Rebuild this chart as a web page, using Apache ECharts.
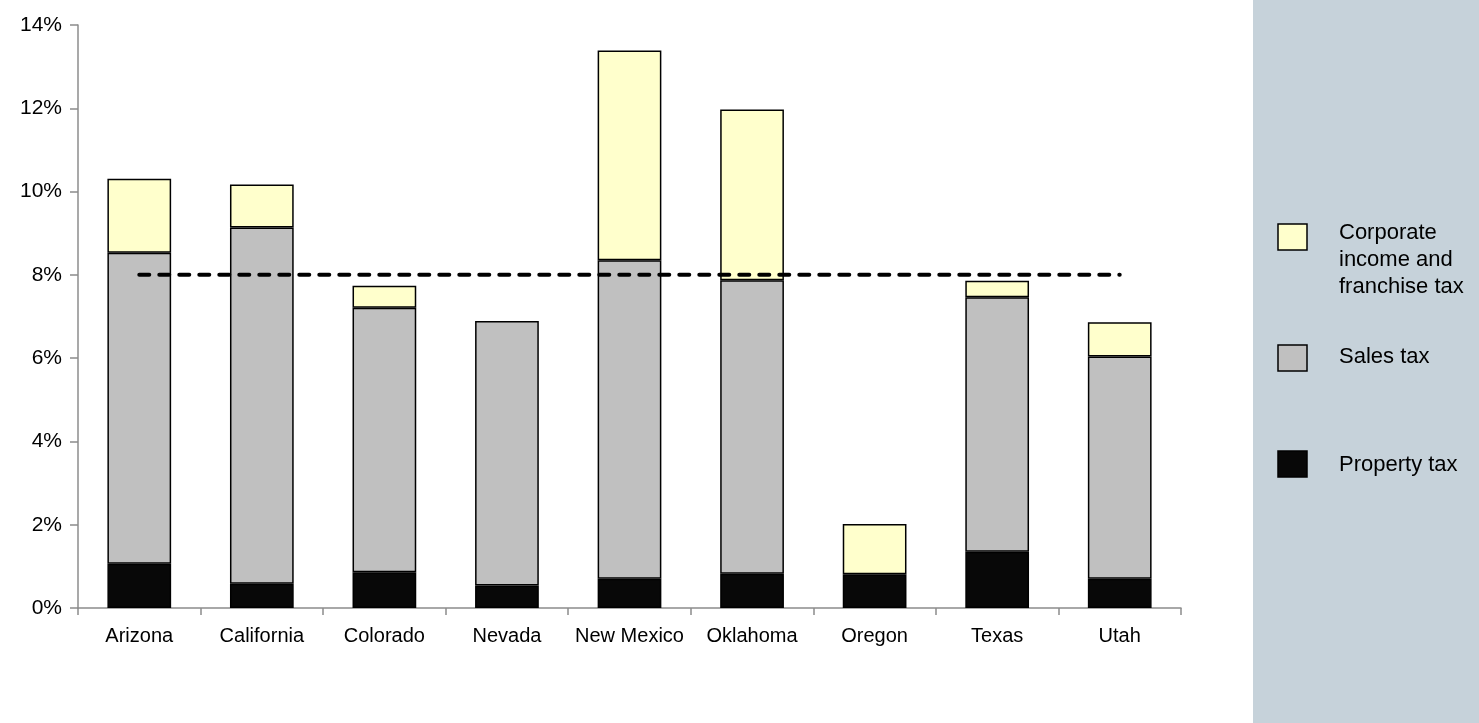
<!DOCTYPE html>
<html>
<head>
<meta charset="utf-8">
<script src="https://cdn.jsdelivr.net/npm/echarts@6/dist/echarts.min.js"></script>
<style>
  html, body { margin: 0; padding: 0; background: #fff; }
  #chart { width: 1479px; height: 723px; }
</style>
</head>
<body>
<div id="chart"></div>
<script>
// States compared
var states = ['Arizona', 'California', 'Colorado', 'Nevada', 'New Mexico', 'Oklahoma', 'Oregon', 'Texas', 'Utah'];

// Tax shares, percent (stacked bottom to top)
var propertyTax = [1.06, 0.58, 0.86, 0.54, 0.70, 0.82, 0.81, 1.35, 0.70];
var salesTax    = [7.47, 8.56, 6.35, 6.35, 7.65, 7.05, 0.00, 6.11, 5.34];
var corporateTax = [1.78, 1.03, 0.53, 0.00, 5.04, 4.10, 1.21, 0.40, 0.82];

// Reference level drawn as a dashed line
var referenceLevel = [8, 8, 8, 8, 8, 8, 8, 8, 8];

// Y axis ticks
var yTicks = [0, 2, 4, 6, 8, 10, 12, 14];

var seriesNames = ['Property tax', 'Sales tax', 'Corporate\nincome and\nfranchise tax'];
var seriesColors = ['#080808', '#c0c0c0', '#ffffcc'];

var FONT = 'Liberation Sans, Arial, sans-serif';

function nz(arr) { return arr.map(function (v) { return v === 0 ? null : v; }); }

function barSeries(name, data, color) {
  return {
    name: name,
    type: 'bar',
    stack: 'total',
    barWidth: '52%',
    data: nz(data),
    itemStyle: { color: color, borderColor: '#000', borderWidth: 1.5 },
    emphasis: { disabled: true }
  };
}

// Legend panel on the right, drawn as graphic elements
var panelX = 1253;
var legendItems = [
  { name: seriesNames[2], color: seriesColors[2], boxY: 224, textY: 219 },
  { name: seriesNames[1], color: seriesColors[1], boxY: 345, textY: 343 },
  { name: seriesNames[0], color: seriesColors[0], boxY: 451, textY: 451 }
];
var graphics = [{
  type: 'rect', z: -10, silent: true,
  shape: { x: panelX, y: 0, width: 1479 - panelX, height: 723 },
  style: { fill: '#c6d2da' }
}];
legendItems.forEach(function (it) {
  graphics.push({
    type: 'rect', silent: true,
    shape: { x: 1278, y: it.boxY, width: 29, height: 26 },
    style: { fill: it.color, stroke: '#000', lineWidth: 1.5 }
  });
  graphics.push({
    type: 'text', silent: true,
    x: 1339, y: it.textY,
    style: { text: it.name, font: '22px ' + FONT, fill: '#000', lineHeight: 27, textVerticalAlign: 'top' }
  });
});

var chart = echarts.init(document.getElementById('chart'), null, { renderer: 'canvas' });
chart.setOption({
  animation: false,
  backgroundColor: '#fff',
  grid: { left: 78, right: 298, top: 25, bottom: 115, containLabel: false },
  xAxis: {
    type: 'category',
    data: states,
    axisLine: { lineStyle: { color: '#8c8c8c', width: 1.5 } },
    axisTick: { show: true, interval: 0, length: 7, lineStyle: { color: '#8c8c8c', width: 1.5 } },
    axisLabel: { interval: 0, color: '#000', fontSize: 20, fontFamily: FONT, margin: 18 }
  },
  yAxis: {
    type: 'value',
    min: yTicks[0],
    max: yTicks[yTicks.length - 1],
    interval: yTicks[1] - yTicks[0],
    splitLine: { show: false },
    axisLine: { show: true, lineStyle: { color: '#8c8c8c', width: 1.5 } },
    axisTick: { show: true, length: 8, lineStyle: { color: '#8c8c8c', width: 1.5 } },
    axisLabel: { color: '#000', fontSize: 21, fontFamily: FONT, margin: 16, formatter: '{value}%' }
  },
  series: [
    barSeries(seriesNames[0], propertyTax, seriesColors[0]),
    barSeries(seriesNames[1], salesTax, seriesColors[1]),
    barSeries(seriesNames[2], corporateTax, seriesColors[2]),
    {
      name: 'Reference',
      type: 'line',
      data: referenceLevel,
      symbol: 'none',
      z: 5,
      lineStyle: { color: '#000', width: 4, type: [10, 10], cap: 'round' },
      emphasis: { disabled: true }
    }
  ],
  graphic: graphics
});
</script>
</body>
</html>
